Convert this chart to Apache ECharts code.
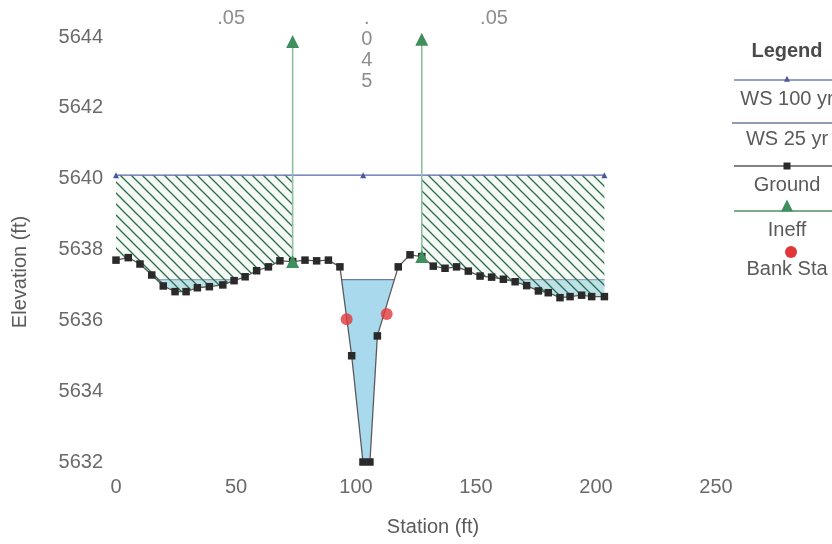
<!DOCTYPE html>
<html><head><meta charset="utf-8">
<script src="https://cdn.jsdelivr.net/npm/echarts@6/dist/echarts.min.js"></script>
<style>html,body{margin:0;padding:0;background:#fff;overflow:hidden}#c{width:832px;height:544px}</style>
</head><body><div id="c"></div>
<script>
// ---- data ----
const groundStation = [0, 5.1, 10.0, 14.9, 19.7, 24.6, 29.2, 33.9, 38.9, 44.5, 49.2, 53.8, 58.6, 63.5, 68.3, 73.6, 78.75, 83.6, 88.5, 93.3, 98.2, 102.9, 105.8, 108.9, 117.6, 122.5, 127.4, 132.2, 137.1, 141.9, 146.8, 151.7, 156.5, 161.4, 166.3, 171.1, 176.0, 180.1, 185.0, 189.2, 194.0, 198.2, 203.5];
const groundElev = [5637.70, 5637.77, 5637.59, 5637.28, 5636.97, 5636.81, 5636.81, 5636.92, 5636.95, 5637.00, 5637.12, 5637.23, 5637.40, 5637.51, 5637.68, 5637.66, 5637.70, 5637.68, 5637.70, 5637.51, 5635.00, 5632.0, 5632.0, 5635.56, 5637.51, 5637.85, 5637.80, 5637.53, 5637.47, 5637.51, 5637.39, 5637.25, 5637.22, 5637.16, 5637.09, 5636.98, 5636.83, 5636.78, 5636.64, 5636.67, 5636.71, 5636.67, 5636.67];
const ws100Station = [0, 103, 203.5];
const ws100Elev = [5640.1, 5640.1, 5640.1];
const ws25Station = [0, 203.5];
const ws25Elev = [5637.15, 5637.15];
const ineffStation = [73.6, 127.4];
const ineffBottom = [5637.66, 5637.80];
const ineffTop = [5643.87, 5643.94];
const ineffAreaStart = [0, 127.4];
const ineffAreaEnd = [73.6, 203.5];
const bankStation = [96.1, 112.8];
const bankElev = [5636.03, 5636.18];
const nStation = [48, 104.5, 157.5];
const nLabel = ['.05', '.045', '.05'];
const legendNames = ['WS 100 yr', 'WS 25 yr', 'Ground', 'Ineff', 'Bank Sta'];

// ---- hatch pattern ----
function hatch() {
  const s = 11, cv = document.createElement('canvas');
  cv.width = s; cv.height = s;
  const g = cv.getContext('2d');
  g.fillStyle = 'rgba(225,240,228,0.35)';
  g.fillRect(0, 0, s, s);
  g.strokeStyle = '#2f6e48';
  g.lineWidth = 1.3;
  for (const o of [-s, 0, s]) {
    g.beginPath(); g.moveTo(o - 1, -1); g.lineTo(o + s + 1, s + 1); g.stroke();
  }
  return { image: cv, repeat: 'repeat' };
}

const zip = (a, b) => a.map((v, i) => [v, b[i]]);
const font = 'Liberation Sans, Arial, sans-serif';
const chart = echarts.init(document.getElementById('c'), null, { renderer: 'canvas' });

// ground cover (white below ground), padded slightly past both ends to hide edge anti-aliasing
const nG = groundStation.length;
const coverData = [[groundStation[0] - 1, groundElev[0]]]
  .concat(zip(groundStation, groundElev))
  .concat([[groundStation[nG - 1] + 1, groundElev[nG - 1]]]);

const series = [];
series.push({
  name: 'WS 25 yr', type: 'line', z: 1, data: zip(ws25Station, ws25Elev), symbol: 'none',
  lineStyle: { color: '#6c7ca6', width: 1.3 },
  areaStyle: { color: '#a9d9ec', opacity: 1, origin: 'start' }, silent: true
});
const pat = hatch();
for (let i = 0; i < ineffAreaStart.length; i++) {
  series.push({
    type: 'line', z: 2, symbol: 'none', silent: true,
    data: [[ineffAreaStart[i], ws100Elev[0]], [ineffAreaEnd[i], ws100Elev[0]]],
    lineStyle: { width: 0 },
    areaStyle: { color: pat, opacity: 1, origin: 'start' }
  });
}
series.push({
  type: 'line', z: 3, symbol: 'none', silent: true, data: coverData, clip: false,
  lineStyle: { width: 0 }, areaStyle: { color: '#ffffff', opacity: 1, origin: 'start' }
});
series.push({
  name: 'Ground', type: 'line', z: 5, data: zip(groundStation, groundElev),
  symbol: 'rect', symbolSize: 7.5, itemStyle: { color: '#2a2a2a' },
  lineStyle: { color: '#5a5a5a', width: 1.3 }
});
series.push({
  name: 'WS 100 yr', type: 'line', z: 6, data: zip(ws100Station, ws100Elev),
  symbol: 'triangle', symbolSize: 6, itemStyle: { color: '#4a56a0' },
  lineStyle: { color: '#5866ac', width: 1.4 }
});
for (let i = 0; i < ineffStation.length; i++) {
  series.push({
    name: 'Ineff', type: 'line', z: 6,
    data: [[ineffStation[i], ineffBottom[i]], [ineffStation[i], ineffTop[i]]],
    symbol: 'triangle', symbolSize: 13, itemStyle: { color: '#3f8f5e' },
    lineStyle: { color: '#8fbf9f', width: 1.6 }
  });
}
series.push({
  name: 'Bank Sta', type: 'scatter', z: 7, data: zip(bankStation, bankElev),
  symbol: 'circle', symbolSize: 12, itemStyle: { color: '#e2373a' }
});
series.push({
  type: 'scatter', z: 7, clip: false, silent: true, symbolSize: 0,
  data: nStation.map((s, i) => ({ value: [s, 5644], name: nLabel[i] })),
  label: {
    show: true, position: 'inside', color: '#707070', fontFamily: font, fontSize: 20, lineHeight: 21,
    formatter: p => p.name.length > 3 ? p.name.split('').join('\n') : p.name
  }
});

chart.setOption({
  animation: false,
  backgroundColor: '#ffffff',
  grid: { left: 116, right: 116, top: 37, bottom: 82, containLabel: false },
  xAxis: {
    type: 'value', min: 0, max: 250, interval: 50,
    axisLine: { show: false }, axisTick: { show: false }, splitLine: { show: false },
    axisLabel: { color: '#6a6a6a', fontFamily: font, fontSize: 20, margin: 15 }
  },
  yAxis: {
    type: 'value', min: 5632, max: 5644, interval: 2,
    axisLine: { show: false }, axisTick: { show: false }, splitLine: { show: false },
    axisLabel: { color: '#6a6a6a', fontFamily: font, fontSize: 20, margin: 13, formatter: v => String(v) }
  },
  series: series
});

// position the roughness labels above the plot: horizontal ones centred at y=18, vertical one lines at 18,39,60,81
const yTop = chart.convertToPixel({ yAxisIndex: 0 }, 5644);
const sUpd = series.map(() => ({}));
sUpd[sUpd.length - 1] = {
  data: nStation.map((s, i) => ({
    value: [s, 5644], name: nLabel[i],
    label: { offset: [0, nLabel[i].length > 3 ? (18 - 10.5 + 42) - yTop : 18 - yTop] }
  }))
};
chart.setOption({ series: sUpd });

// legend (custom layout: line with marker, name below)
const lx0 = 734, lx1 = 860, cx = 787;
const txt = (t, y, bold) => ({ type: 'text', x: cx, y: y, style: { text: t, fill: bold ? '#4a4a4a' : '#5a5a5a', font: (bold ? 'bold ' : '') + '20px ' + font, textAlign: 'center', textVerticalAlign: 'middle' } });
const tri = (x, y, s, c) => ({ type: 'polygon', shape: { points: [[x, y - s * 0.55], [x + s / 2, y + s * 0.45], [x - s / 2, y + s * 0.45]] }, style: { fill: c } });
const hl = (y, c, x0) => ({ type: 'line', shape: { x1: x0 || lx0, y1: y, x2: lx1, y2: y }, style: { stroke: c, lineWidth: 1.3 } });
chart.setOption({
  graphic: [
    txt('Legend', 51, true),
    hl(80, '#7280b4'), tri(cx, 79, 6, '#4a56a0'),
    txt(legendNames[0], 99),
    hl(123, '#6c7898', 732),
    txt(legendNames[1], 139),
    hl(166, '#5a5a5a'), { type: 'rect', shape: { x: cx - 3.5, y: 162.5, width: 7, height: 7 }, style: { fill: '#2a2a2a' } },
    txt(legendNames[2], 185),
    hl(211, '#4f8f64'), tri(cx, 206, 12, '#3f8f5e'),
    txt(legendNames[3], 230),
    { type: 'circle', shape: { cx: cx + 4, cy: 252, r: 6 }, style: { fill: '#e2373a' } },
    txt(legendNames[4], 269),
    { type: 'text', x: 433, y: 527, style: { text: 'Station (ft)', fill: '#5a5a5a', font: '20px ' + font, textAlign: 'center', textVerticalAlign: 'middle' } },
    { type: 'text', x: 20, y: 272, rotation: Math.PI / 2, style: { text: 'Elevation (ft)', fill: '#5a5a5a', font: '20px ' + font, textAlign: 'center', textVerticalAlign: 'middle' } }
  ]
});
</script>
</body></html>
